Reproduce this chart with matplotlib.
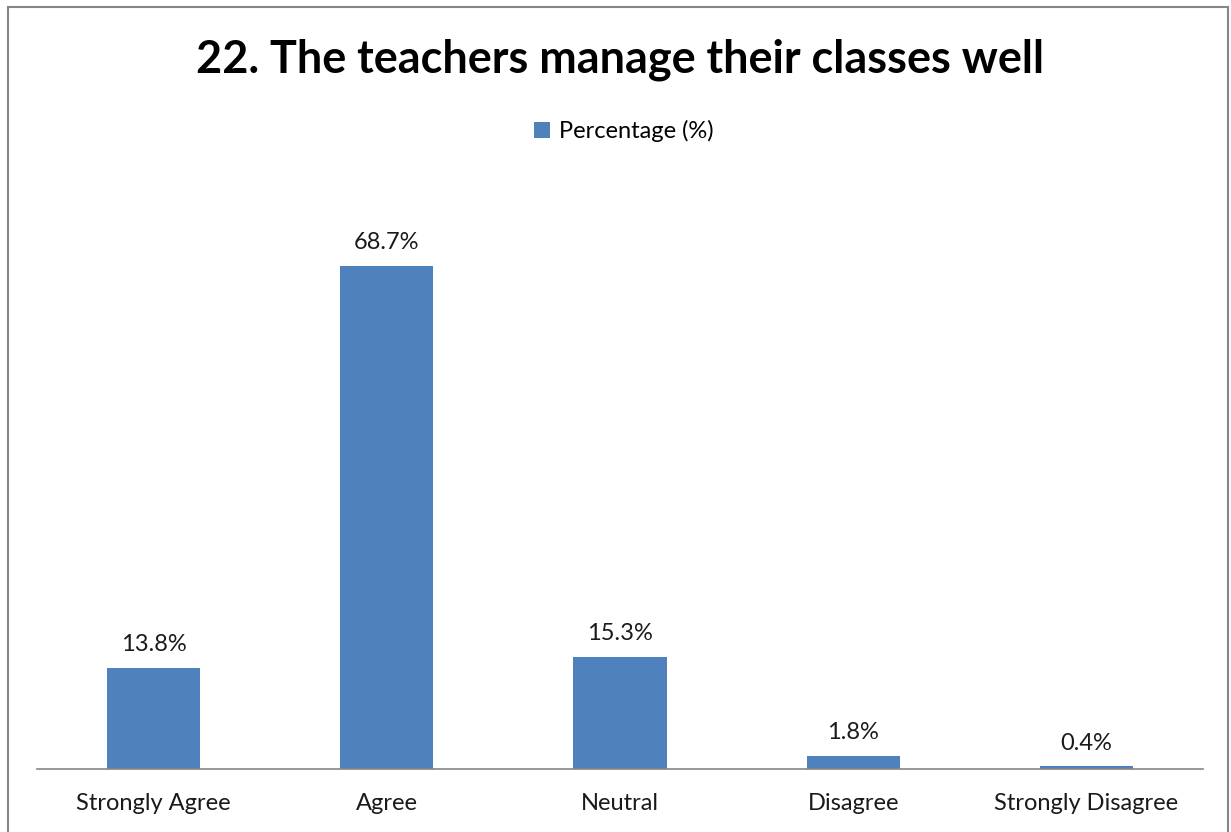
import matplotlib
matplotlib.use("Agg")
import matplotlib.pyplot as plt
from matplotlib.patches import Rectangle

categories = ["Strongly Agree", "Agree", "Neutral", "Disagree", "Strongly Disagree"]
values = [13.8, 68.7, 15.3, 1.8, 0.4]
labels = ["13.8%", "68.7%", "15.3%", "1.8%", "0.4%"]
series_name = "Percentage (%)"
title = "22. The teachers manage their classes well"

W, H = 1231, 832
fig = plt.figure(figsize=(W / 100, H / 100), dpi=100)
font = "Lato"
plt.rcParams["font.family"] = [font, "DejaVu Sans"]

# figure border
fig.patches.append(Rectangle((8 / W, -0.01), (1228 - 8) / W, (H - 7) / H + 0.01,
                             transform=fig.transFigure, fill=False,
                             edgecolor="#868686", linewidth=1.5))

left, right, bottom, top = 37, 1203, 769, 183
ax = fig.add_axes([left / W, (H - bottom) / H, (right - left) / W, (bottom - top) / H])
color = "#4F81BD"
x = range(len(categories))
bars = ax.bar(x, values, width=0.4, color=color, label=series_name)
ax.set_xlim(-0.5, len(categories) - 0.5)
ax.set_ylim(0, 80)
for xi, v, lab in zip(x, values, labels):
    ax.annotate(lab, (xi, v), xytext=(0, 9), textcoords="offset points",
                ha="center", va="bottom", fontsize=17, color="#1a1a1a")
ax.set_xticks(list(x))
ax.set_xticklabels(categories, fontsize=17, color="#1a1a1a")
ax.tick_params(axis="x", length=0, pad=17)
ax.set_yticks([])
for s in ["top", "right", "left"]:
    ax.spines[s].set_visible(False)
ax.spines["bottom"].set_color("#868686")
ax.spines["bottom"].set_linewidth(1.2)

fig.text(620 / W, 1 - 60 / H, title, ha="center", va="center",
         fontsize=32.4, fontweight="bold", color="black")

leg = fig.legend(handles=[bars], labels=[series_name], loc="center",
                 bbox_to_anchor=(624 / W, 1 - 131 / H), frameon=False,
                 fontsize=17, handlelength=0.65, handleheight=0.65, handletextpad=0.4)

fig.savefig("out.png", dpi=100, facecolor="white")
